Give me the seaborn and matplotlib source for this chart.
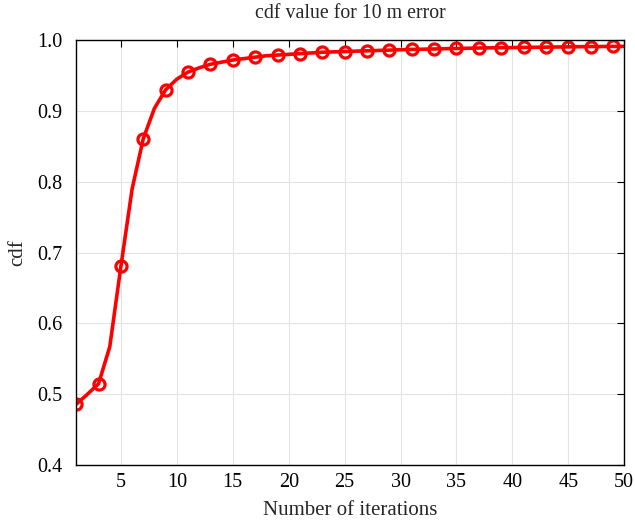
import matplotlib
matplotlib.use('Agg')
import matplotlib.pyplot as plt
import numpy as np
import pandas as pd
import seaborn as sns

iterations = list(range(1, 51))
cdf = [0.486, 0.500, 0.515, 0.567, 0.681, 0.790, 0.861, 0.904, 0.930, 0.945,
       0.955, 0.961, 0.966, 0.969, 0.972, 0.974, 0.976, 0.978, 0.979, 0.980,
       0.981, 0.982, 0.983, 0.9835, 0.984, 0.9845, 0.985, 0.9855, 0.986, 0.9865,
       0.987, 0.9873, 0.9876, 0.988, 0.9883, 0.9886, 0.989, 0.9892, 0.9894, 0.9896,
       0.9898, 0.99, 0.9902, 0.9904, 0.9906, 0.9908, 0.991, 0.9911, 0.9912, 0.9913]
df = pd.DataFrame({'iter': iterations, 'cdf': cdf})

sns.set_style('white')
plt.rcParams['font.family'] = ['Liberation Serif', 'DejaVu Serif']

fig = plt.figure(figsize=(6.35, 5.22), dpi=100)
ax = fig.add_axes([0.12, 0.109, 0.863, 0.814])

sns.lineplot(data=df, x='iter', y='cdf', ax=ax, color='red', linewidth=2.6,
             marker='o', markersize=8, markerfacecolor='none',
             markeredgecolor='red', markeredgewidth=2.3, markevery=2)

ax.set_xlim(1, 50)
ax.set_ylim(0.4, 1.0)
ax.set_xticks(np.arange(5, 51, 5))
ax.set_yticks(np.arange(0.4, 1.01, 0.1))
ax.set_yticklabels(['0.4', '0.5', '0.6', '0.7', '0.8', '0.9', '1.0'])
ax.grid(True, color='#e3e3e3', linewidth=0.8)
for s in ax.spines.values():
    s.set_color('black')
    s.set_linewidth(1.0)
ax.tick_params(direction='in', length=5, width=0.8, top=True, right=True,
               labelsize=14.5, colors='black')
ax.tick_params(axis='y', pad=10)
ax.tick_params(axis='x', pad=6)
ax.set_xlabel('Number of iterations', fontsize=15, labelpad=6)
ax.set_ylabel('cdf', fontsize=15, labelpad=7)
ax.set_title('cdf value for 10 m error', fontsize=14.3, pad=16)

fig.savefig('out.png', dpi=100)
